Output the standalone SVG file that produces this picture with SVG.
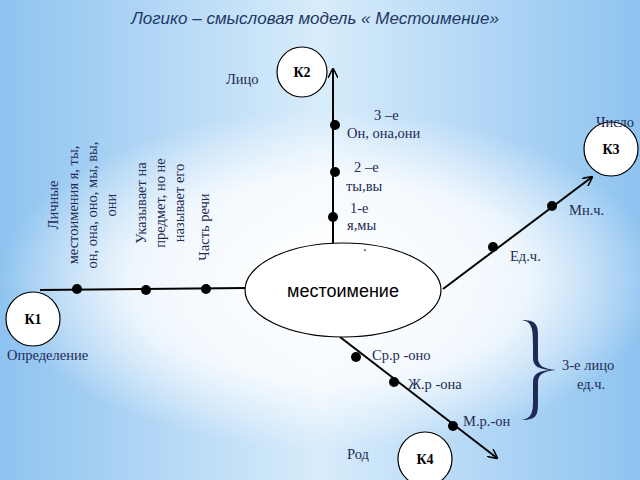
<svg xmlns="http://www.w3.org/2000/svg" width="640" height="480" viewBox="0 0 640 480">
<defs>
<linearGradient id="bg" x1="0" y1="0" x2="1" y2="0">
<stop offset="0" stop-color="#8ec3f0"/><stop offset="0.5" stop-color="#d8ecfb"/><stop offset="1" stop-color="#8ec3f0"/>
</linearGradient>
<radialGradient id="glow" cx="0.5" cy="0.5" r="0.5">
<stop offset="0" stop-color="#ffffff"/><stop offset="0.6" stop-color="#ffffff" stop-opacity="0.8"/><stop offset="1" stop-color="#ffffff" stop-opacity="0"/>
</radialGradient>
<marker id="arr" viewBox="0 0 10 10" refX="9" refY="5" markerWidth="10" markerHeight="10" orient="auto" markerUnits="userSpaceOnUse">
<path d="M0,0 L10,5 L0,10" fill="none" stroke="#000" stroke-width="1.5"/>
</marker>
<style>
.t{font-family:"Liberation Serif",serif;font-size:14.5px;fill:#1f2a55}
.r{font-family:"Liberation Serif",serif;font-size:14.5px;fill:#1f2a55}
.k{font-family:"Liberation Serif",serif;font-size:14px;font-weight:bold;fill:#000}
.c{fill:#fff;stroke:#000;stroke-width:1.2}
.ln{stroke:#000;stroke-width:2;fill:none}
.d{fill:#000}
</style>
</defs>
<rect width="640" height="480" fill="url(#bg)"/>
<ellipse cx="330" cy="280" rx="330" ry="170" fill="url(#glow)"/>
<text x="315" y="24" text-anchor="middle" font-family="Liberation Sans,sans-serif" font-style="italic" font-size="17" fill="#1f3864">Логико – смысловая модель « Местоимение»</text>
<g id="connectors">
<line class="ln" x1="333" y1="245" x2="333" y2="69" marker-end="url(#arr)"/>
<line class="ln" x1="246" y1="288" x2="40" y2="290"/>
<line class="ln" x1="443" y1="289" x2="592" y2="177" marker-end="url(#arr)"/>
<line class="ln" x1="340" y1="337" x2="497" y2="458" marker-end="url(#arr)"/>
<circle class="d" cx="335" cy="125" r="5"/><circle class="d" cx="335" cy="172" r="5"/><circle class="d" cx="333" cy="217" r="5"/>
<circle class="d" cx="77" cy="289" r="5"/><circle class="d" cx="146" cy="290" r="5"/><circle class="d" cx="206" cy="289" r="5"/>
<circle class="d" cx="493" cy="247" r="5"/><circle class="d" cx="552" cy="206" r="5"/>
<circle class="d" cx="356" cy="357" r="5"/><circle class="d" cx="394" cy="382" r="5"/><circle class="d" cx="453" cy="426" r="5"/>
</g>
<g id="center"><ellipse class="c" cx="343" cy="290" rx="98" ry="47"/><text x="343" y="297" text-anchor="middle" font-family="Liberation Sans,sans-serif" font-size="18" fill="#000">местоимение</text><text x="363" y="251" class="t">.</text></g>
<g id="K2"><circle class="c" cx="302" cy="72" r="25"/><text class="k" x="302" y="77" text-anchor="middle">К2</text></g>
<g id="K3"><circle class="c" cx="611" cy="149" r="27"/><text class="k" x="611" y="154" text-anchor="middle">К3</text></g>
<g id="K1"><circle class="c" cx="33" cy="319" r="27"/><text class="k" x="33" y="324" text-anchor="middle">К1</text></g>
<g id="K4"><circle class="c" cx="425" cy="459" r="27"/><text class="k" x="425" y="464" text-anchor="middle">К4</text></g>
<g id="labels">
<text class="t" x="226" y="84">Лицо</text>
<text class="t" x="374" y="120">3 –е</text>
<text class="t" x="347" y="138">Он, она,они</text>
<text class="t" x="354" y="172">2 –е</text>
<text class="t" x="346" y="191">ты,вы</text>
<text class="t" x="350" y="213">1-е</text>
<text class="t" x="347" y="230">я,мы</text>
<text class="t" x="596" y="127">Число</text>
<text class="t" x="569" y="215">Мн.ч.</text>
<text class="t" x="510" y="261">Ед.ч.</text>
<text class="t" x="7" y="360">Определение</text>
<text class="t" x="372" y="360">Ср.р -оно</text>
<text class="t" x="408" y="389">Ж.р -она</text>
<text class="t" x="463" y="426">М.р.-он</text>
<text class="t" x="347" y="459">Род</text>
<text class="t" x="562" y="370">3-е лицо</text>
<text class="t" x="577" y="389">ед.ч.</text>
<path d="M522,320 C540,320 538,328 538,345 L538,358 C538,366 544,369 556,370 C544,371 538,374 538,382 L538,400 C538,414 538,420 522,420 C532,418 533,412 533,400 L533,382 C533,374 538,371 550,370 C538,369 533,366 533,358 L533,345 C533,328 532,322 522,320 Z" fill="#1f2a55"/>
<g transform="rotate(-90)">
<text class="r" x="-205" y="58" text-anchor="middle">Личные</text>
<text class="r" x="-205" y="78" text-anchor="middle">местоимения я, ты,</text>
<text class="r" x="-205" y="97" text-anchor="middle">он, она, оно, мы, вы,</text>
<text class="r" x="-205" y="116" text-anchor="middle">они</text>
<text class="r" x="-203" y="146" text-anchor="middle">Указывает на</text>
<text class="r" x="-203" y="165" text-anchor="middle">предмет, но не</text>
<text class="r" x="-203" y="184" text-anchor="middle">называет его</text>
<text class="r" x="-227" y="209" text-anchor="middle">Часть речи</text>
</g>
</g>
</svg>
